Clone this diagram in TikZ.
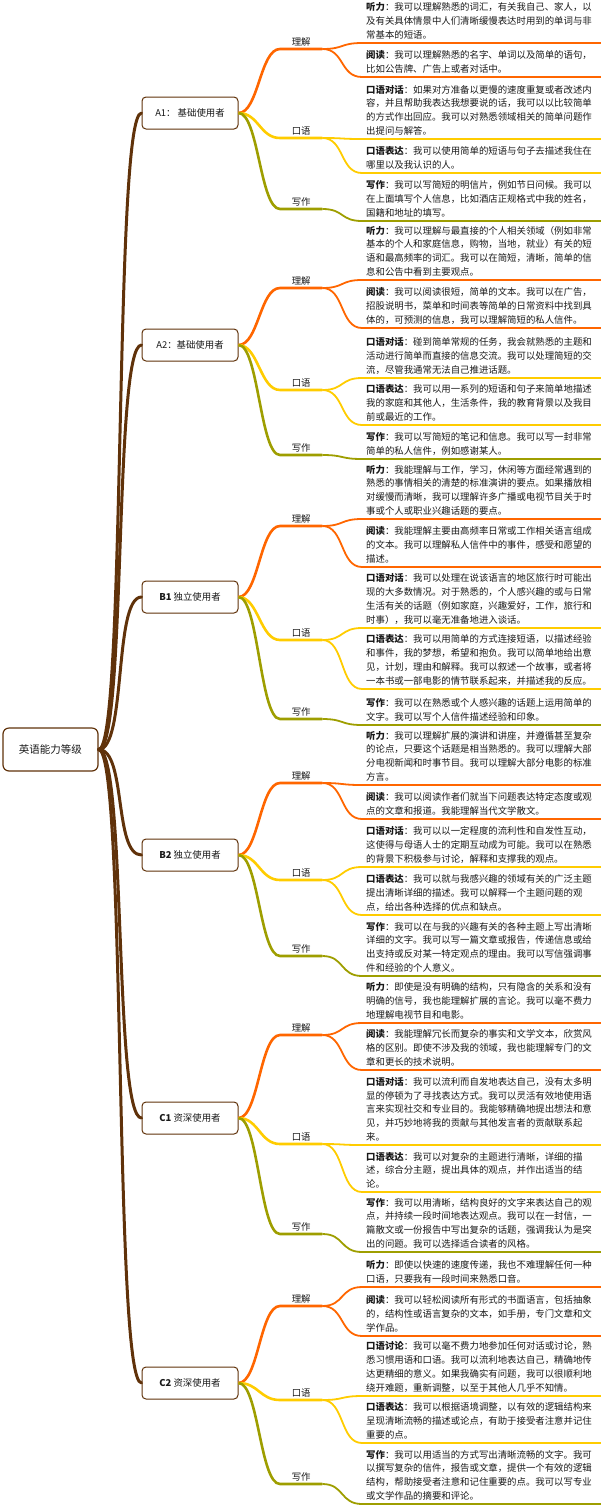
\documentclass[tikz,border=0pt]{standalone}
\usepackage{fontspec}
\usepackage{xcolor}
\usepackage{tikz}
\usetikzlibrary{positioning, calc}
\newfontfamily\cjk{Noto Sans CJK SC}
\definecolor{mapbrown}{RGB}{96,50,10}
\definecolor{maporange}{RGB}{255,102,0}
\definecolor{mapyellow}{RGB}{255,204,0}
\definecolor{mapolive}{RGB}{158,158,0}
\definecolor{maptext}{RGB}{25,25,25}
\tikzset{every node/.append style={align=center}}
\tikzset{
  rootbox/.style={rectangle, draw=mapbrown, fill=white, line width=1.2pt, rounded corners=6pt,
    minimum width=95pt, minimum height=43pt, font=\cjk\fontsize{10.5}{12}\selectfont, text=maptext},
  lvl/.style={rectangle, draw=mapbrown, fill=white, line width=1pt, rounded corners=4pt,
    minimum width=96pt, minimum height=32pt, font=\cjk\fontsize{9.4}{12}\selectfont, text=maptext},
  sub/.style={anchor=south west, inner xsep=0pt, inner ysep=3pt, minimum width=42pt,
    font=\cjk\fontsize{9.4}{12}\selectfont, text=maptext},
  leaf/.style={anchor=south west, inner xsep=4pt, inner ysep=3.5pt, text width=234pt,
    align=left, font=\cjk\fontsize{9.4}{13.8}\selectfont, text=maptext},
  trunk/.style={mapbrown, line width=3pt, line cap=round},
  twig/.style={line width=2.6pt},
  stem/.style={line width=1.8pt},
  uline/.style={line width=2.2pt}
}
\begin{document}
\begin{tikzpicture}[x=1pt, y=-1pt]
  \useasboundingbox (0,0) rectangle (600,1508);
  % root and levels
  \node[rootbox] (root) at (50.5,749.5) {英语能力等级};
  \node[lvl] (a1) at (190,113) {A1： 基础使用者};
  \node[lvl] (a2) at (190,345) {A2：基础使用者};
  \node[lvl] (b1) at (190,597) {\textbf{B1} 独立使用者};
  \node[lvl] (b2) at (190,855) {\textbf{B2} 独立使用者};
  \node[lvl] (c1) at (190,1118) {\textbf{C1} 资深使用者};
  \node[lvl] (c2) at (190,1383) {\textbf{C2} 资深使用者};
  \foreach \lv in {a1,a2,b1,b2,c1,c2}
    \draw[trunk] (root.east) .. controls +(28,0) and +(-28,0) .. (\lv.west);

  % sub topics
  \node[sub] (a1u) at (280,49) {理解};
  \node[sub] (a1s) at (280,138) {口语};
  \node[sub] (a1w) at (280,209) {写作};
  \node[sub] (a2u) at (280,288) {理解};
  \node[sub] (a2s) at (280,390) {口语};
  \node[sub] (a2w) at (280,455) {写作};
  \node[sub] (b1u) at (280,526) {理解};
  \node[sub] (b1s) at (280,640) {口语};
  \node[sub] (b1w) at (280,719) {写作};
  \node[sub] (b2u) at (280,783) {理解};
  \node[sub] (b2s) at (280,880) {口语};
  \node[sub] (b2w) at (280,956) {写作};
  \node[sub] (c1u) at (280,1035) {理解};
  \node[sub] (c1s) at (280,1144) {口语};
  \node[sub] (c1w) at (280,1234) {写作};
  \node[sub] (c2u) at (280,1306) {理解};
  \node[sub] (c2s) at (280,1400) {口语};
  \node[sub] (c2w) at (280,1484) {写作};
  \foreach \lv in {a1,a2,b1,b2,c1,c2} {
    \draw[twig, maporange] (\lv.east) .. controls +(20,0) and +(-20,0) .. (\lv u.south west) -- (\lv u.south east);
    \draw[twig, mapyellow] (\lv.east) .. controls +(20,0) and +(-20,0) .. (\lv s.south west) -- (\lv s.south east);
    \draw[twig, mapolive] (\lv.east) .. controls +(20,0) and +(-20,0) .. (\lv w.south west) -- (\lv w.south east);
  }

  % A1
  \node[leaf] (a1u1) at (362,43) {\textbf{听力}：我可以理解熟悉的词汇，有关我自己、家人，以\\及有关具体情景中人们清晰缓慢表达时用到的单词与非\\常基本的短语。};
  \node[leaf] (a1u2) at (362,77) {\textbf{阅读}：我可以理解熟悉的名字、单词以及简单的语句，\\比如公告牌、广告上或者对话中。};
  \node[leaf] (a1s1) at (362,139) {\textbf{口语对话}：如果对方准备以更慢的速度重复或者改述内\\容，并且帮助我表达我想要说的话，我可以以比较简单\\的方式作出回应。我可以对熟悉领域相关的简单问题作\\出提问与解答。};
  \node[leaf] (a1s2) at (362,173) {\textbf{口语表达}：我可以使用简单的短语与句子去描述我住在\\哪里以及我认识的人。};
  \node[leaf] (a1w1) at (362,221) {\textbf{写作}：我可以写简短的明信片，例如节日问候。我可以\\在上面填写个人信息，比如酒店正规格式中我的姓名，\\国籍和地址的填写。};

  % A2
  \node[leaf] (a2u1) at (362,280) {\textbf{听力}：我可以理解与最直接的个人相关领域（例如非常\\基本的个人和家庭信息，购物，当地，就业）有关的短\\语和最高频率的词汇。我可以在简短，清晰，简单的信\\息和公告中看到主要观点。};
  \node[leaf] (a2u2) at (362,328) {\textbf{阅读}：我可以阅读很短，简单的文本。我可以在广告，\\招股说明书，菜单和时间表等简单的日常资料中找到具\\体的，可预测的信息，我可以理解简短的私人信件。};
  \node[leaf] (a2s1) at (362,378) {\textbf{口语对话}：碰到简单常规的任务，我会就熟悉的主题和\\活动进行简单而直接的信息交流。我可以处理简短的交\\流，尽管我通常无法自己推进话题。};
  \node[leaf] (a2s2) at (362,425) {\textbf{口语表达}：我可以用一系列的短语和句子来简单地描述\\我的家庭和其他人，生活条件，我的教育背景以及我目\\前或最近的工作。};
  \node[leaf] (a2w1) at (362,459) {\textbf{写作}：我可以写简短的笔记和信息。我可以写一封非常\\简单的私人信件，例如感谢某人。};

  % B1
  \node[leaf] (b1u1) at (362,519) {\textbf{听力}：我能理解与工作，学习，休闲等方面经常遇到的\\熟悉的事情相关的清楚的标准演讲的要点。如果播放相\\对缓慢而清晰，我可以理解许多广播或电视节目关于时\\事或个人或职业兴趣话题的要点。};
  \node[leaf] (b1u2) at (362,567) {\textbf{阅读}：我能理解主要由高频率日常或工作相关语言组成\\的文本。我可以理解私人信件中的事件，感受和愿望的\\描述。};
  \node[leaf] (b1s1) at (362,628) {\textbf{口语对话}：我可以处理在说该语言的地区旅行时可能出\\现的大多数情况。对于熟悉的，个人感兴趣的或与日常\\生活有关的话题（例如家庭，兴趣爱好，工作，旅行和\\时事），我可以毫无准备地进入谈话。};
  \node[leaf] (b1s2) at (362,689) {\textbf{口语表达}：我可以用简单的方式连接短语，以描述经验\\和事件，我的梦想，希望和抱负。我可以简单地给出意\\见，计划，理由和解释。我可以叙述一个故事，或者将\\一本书或一部电影的情节联系起来，并描述我的反应。};
  \node[leaf] (b1w1) at (362,725) {\textbf{写作}：我可以在熟悉或个人感兴趣的话题上运用简单的\\文字。我可以写个人信件描述经验和印象。};

  % B2
  \node[leaf] (b2u1) at (362,785) {\textbf{听力}：我可以理解扩展的演讲和讲座，并遵循甚至复杂\\的论点，只要这个话题是相当熟悉的。我可以理解大部\\分电视新闻和时事节目。我可以理解大部分电影的标准\\方言。};
  \node[leaf] (b2u2) at (362,819) {\textbf{阅读}：我可以阅读作者们就当下问题表达特定态度或观\\点的文章和报道。我能理解当代文学散文。};
  \node[leaf] (b2s1) at (362,867) {\textbf{口语对话}：我可以以一定程度的流利性和自发性互动，\\这使得与母语人士的定期互动成为可能。我可以在熟悉\\的背景下积极参与讨论，解释和支撑我的观点。};
  \node[leaf] (b2s2) at (362,915) {\textbf{口语表达}：我可以就与我感兴趣的领域有关的广泛主题\\提出清晰详细的描述。我可以解释一个主题问题的观\\点，给出各种选择的优点和缺点。};
  \node[leaf] (b2w1) at (362,976) {\textbf{写作}：我可以在与我的兴趣有关的各种主题上写出清晰\\详细的文字。我可以写一篇文章或报告，传递信息或给\\出支持或反对某一特定观点的理由。我可以写信强调事\\件和经验的个人意义。};

  % C1
  \node[leaf] (c1u1) at (362,1023) {\textbf{听力}：即使是没有明确的结构，只有隐含的关系和没有\\明确的信号，我也能理解扩展的言论。我可以毫不费力\\地理解电视节目和电影。};
  \node[leaf] (c1u2) at (362,1070) {\textbf{阅读}：我能理解冗长而复杂的事实和文学文本，欣赏风\\格的区别。即使不涉及我的领域，我也能理解专门的文\\章和更长的技术说明。};
  \node[leaf] (c1s1) at (362,1145) {\textbf{口语对话}：我可以流利而自发地表达自己，没有太多明\\显的停顿为了寻找表达方式。我可以灵活有效地使用语\\言来实现社交和专业目的。我能够精确地提出想法和意\\见，并巧妙地将我的贡献与其他发言者的贡献联系起\\来。};
  \node[leaf] (c1s2) at (362,1192) {\textbf{口语表达}：我可以对复杂的主题进行清晰，详细的描\\述，综合分主题，提出具体的观点，并作出适当的结\\论。};
  \node[leaf] (c1w1) at (362,1252) {\textbf{写作}：我可以用清晰，结构良好的文字来表达自己的观\\点，并持续一段时间地表达观点。我可以在一封信，一\\篇散文或一份报告中写出复杂的话题，强调我认为是突\\出的问题。我可以选择适合读者的风格。};

  % C2
  \node[leaf] (c2u1) at (362,1287) {\textbf{听力}：即使以快速的速度传递，我也不难理解任何一种\\口语，只要我有一段时间来熟悉口音。};
  \node[leaf] (c2u2) at (362,1336) {\textbf{阅读}：我可以轻松阅读所有形式的书面语言，包括抽象\\的，结构性或语言复杂的文本，如手册，专门文章和文\\学作品。};
  \node[leaf] (c2s1) at (362,1396) {\textbf{口语讨论}：我可以毫不费力地参加任何对话或讨论，熟\\悉习惯用语和口语。我可以流利地表达自己，精确地传\\达更精细的意义。如果我确实有问题，我可以很顺利地\\绕开难题，重新调整，以至于其他人几乎不知情。};
  \node[leaf] (c2s2) at (362,1443) {\textbf{口语表达}：我可以根据语境调整，以有效的逻辑结构来\\呈现清晰流畅的描述或论点，有助于接受者注意并记住\\重要的点。};
  \node[leaf] (c2w1) at (362,1504) {\textbf{写作}：我可以用适当的方式写出清晰流畅的文字。我可\\以撰写复杂的信件，报告或文章，提供一个有效的逻辑\\结构，帮助接受者注意和记住重要的点。我可以写专业\\或文学作品的摘要和评论。};

  % leaf connectors
  \foreach \s/\t/\c in {a1u/a1u1/maporange, a1u/a1u2/maporange, a1s/a1s1/mapyellow, a1s/a1s2/mapyellow, a1w/a1w1/mapolive,
    a2u/a2u1/maporange, a2u/a2u2/maporange, a2s/a2s1/mapyellow, a2s/a2s2/mapyellow, a2w/a2w1/mapolive,
    b1u/b1u1/maporange, b1u/b1u2/maporange, b1s/b1s1/mapyellow, b1s/b1s2/mapyellow, b1w/b1w1/mapolive,
    b2u/b2u1/maporange, b2u/b2u2/maporange, b2s/b2s1/mapyellow, b2s/b2s2/mapyellow, b2w/b2w1/mapolive,
    c1u/c1u1/maporange, c1u/c1u2/maporange, c1s/c1s1/mapyellow, c1s/c1s2/mapyellow, c1w/c1w1/mapolive,
    c2u/c2u1/maporange, c2u/c2u2/maporange, c2s/c2s1/mapyellow, c2s/c2s2/mapyellow, c2w/c2w1/mapolive}
    \draw[stem, \c] (\s.south east) .. controls +(22,0) and +(-22,0) .. (\t.south west) -- (\t.south east);
\end{tikzpicture}
\end{document}
